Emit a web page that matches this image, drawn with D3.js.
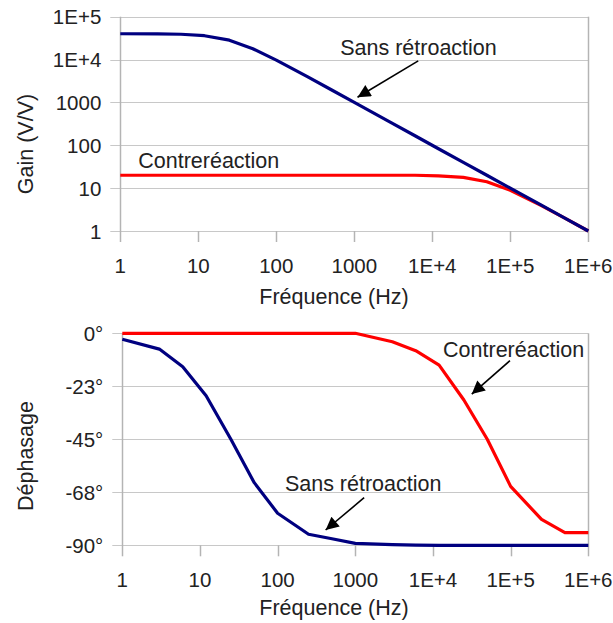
<!DOCTYPE html>
<html>
<head>
<meta charset="utf-8">
<script src="https://cdn.jsdelivr.net/npm/d3@7/dist/d3.min.js"></script>
<style>
  html, body { margin: 0; padding: 0; background: #fff; }
  svg { display: block; }
  text { font-family: "Liberation Sans", Arial, sans-serif; fill: #222; }
</style>
</head>
<body>
<script>
// ---------- DATA ----------
const freqs = [1, 3, 6, 12, 25, 50, 100, 250, 500, 1000, 3000, 6000, 12000, 25000, 50000, 100000, 250000, 500000, 1000000];
const gainOpen   = [40000, 39800, 38900, 36000, 28300, 17900, 9700, 3980, 2000, 1000, 333, 167, 83, 40, 20, 10, 4, 2, 1];
const gainClosed = [20, 20, 20, 20, 20, 20, 20, 20, 20, 20, 20, 20, 19.4, 17.9, 14.1, 8.9, 3.9, 2.0, 1.0];
const phaseOpen   = [-2.5, -6.7, -14.2, -26.5, -45, -63.4, -76.4, -85.3, -87.2, -89.2, -89.7, -89.9, -90, -90, -90, -90, -90, -90, -90];
const phaseClosed = [0, 0, 0, 0, 0, 0, 0, 0, 0, 0, -3.6, -7.4, -13.5, -28.3, -45, -65, -79, -84.6, -84.6];

const xTickValues = [1, 10, 100, 1000, 10000, 100000, 1000000];
const xTickLabels = ["1", "10", "100", "1000", "1E+4", "1E+5", "1E+6"];
const gainTickValues = [1, 10, 100, 1000, 10000, 100000];
const gainTickLabels = ["1", "10", "100", "1000", "1E+4", "1E+5"];
const phaseTickValues = [0, -22.5, -45, -67.5, -90];
const phaseTickLabels = ["0°", "-23°", "-45°", "-68°", "-90°"];

// annotation anchors in data space
const gainNotes = [
  { label: "Sans rétroaction", at: [660, 12800], tail: [6600, 9300], tip: [1100, 1320], arrow: true },
  { label: "Contreréaction", at: [1.7, 29.5], arrow: false }
];
const phaseNotes = [
  { label: "Contreréaction", at: [13500, -10.1], tail: [98000, -11.6], tip: [31600, -25.8], arrow: true },
  { label: "Sans rétroaction", at: [124, -66.8], tail: [1300, -69.8], tip: [415, -83.5], arrow: true }
];

// ---------- DRAW ----------
const W = 613, H = 623;
const svg = d3.select("body").append("svg").attr("width", W).attr("height", H);

const gridColor = "#c8c8c8";
const axisColor = "#b4b4b4";
const blue = "#000080", red = "#ff0000";
const tickFont = 20.5, titleFont = 21.5, noteFont = 21.5;

svg.append("defs").append("marker")
  .attr("id", "ah").attr("viewBox", "0 0 10 10").attr("refX", 10).attr("refY", 5)
  .attr("markerWidth", 19).attr("markerHeight", 13).attr("markerUnits", "userSpaceOnUse")
  .attr("orient", "auto")
  .append("path").attr("d", "M0,0 L10,5 L0,10 Z").attr("fill", "#000");

function panel(opts) {
  const { x, y, xTickY, titleY, yTitle, yTitleY, yTickVals, yTickLabs, series, notes } = opts;
  const g = svg.append("g");
  const [x0, x1] = x.range();
  const [yb, yt] = y.range();

  g.selectAll(".hg").data(yTickVals).enter().append("line")
    .attr("x1", x0 - 10).attr("x2", x1)
    .attr("y1", d => Math.round(y(d)) + 0.5).attr("y2", d => Math.round(y(d)) + 0.5)
    .attr("stroke", gridColor).attr("stroke-width", 1);
  g.append("line").attr("x1", Math.round(x0) + 0.5).attr("x2", Math.round(x0) + 0.5)
    .attr("y1", yt).attr("y2", yb + 11).attr("stroke", axisColor).attr("stroke-width", 1.5);
  g.append("line").attr("x1", Math.round(x1) + 0.5).attr("x2", Math.round(x1) + 0.5)
    .attr("y1", yt).attr("y2", yb + 11).attr("stroke", axisColor).attr("stroke-width", 1.5);
  g.selectAll(".xt").data(xTickValues.slice(1, -1)).enter().append("line")
    .attr("x1", d => Math.round(x(d)) + 0.5).attr("x2", d => Math.round(x(d)) + 0.5)
    .attr("y1", yb).attr("y2", yb + 11).attr("stroke", axisColor).attr("stroke-width", 1.5);

  g.selectAll(".yl").data(yTickVals).enter().append("text")
    .attr("x", x0 - 19).attr("y", d => y(d) + 7.5)
    .attr("text-anchor", "end").attr("font-size", tickFont)
    .text((d, i) => yTickLabs[i]);
  g.selectAll(".xl").data(xTickValues).enter().append("text")
    .attr("x", d => x(d)).attr("y", xTickY)
    .attr("text-anchor", "middle").attr("font-size", tickFont)
    .text((d, i) => xTickLabels[i]);
  g.append("text").attr("x", 334).attr("y", titleY)
    .attr("text-anchor", "middle").attr("font-size", titleFont).text("Fréquence (Hz)");
  g.append("text").attr("transform", `translate(33,${yTitleY}) rotate(-90)`)
    .attr("text-anchor", "middle").attr("font-size", titleFont).text(yTitle);

  const line = d3.line().x(d => x(d[0])).y(d => y(d[1]));
  series.forEach(s => {
    g.append("path").datum(freqs.map((f, i) => [f, s.values[i]]))
      .attr("d", line).attr("fill", "none").attr("stroke", s.color)
      .attr("stroke-width", 3.2).attr("stroke-linejoin", "round");
  });

  notes.forEach(n => {
    g.append("text").attr("x", x(n.at[0])).attr("y", y(n.at[1]))
      .attr("font-size", noteFont).text(n.label);
    if (n.arrow) {
      g.append("line")
        .attr("x1", x(n.tail[0])).attr("y1", y(n.tail[1]))
        .attr("x2", x(n.tip[0])).attr("y2", y(n.tip[1]))
        .attr("stroke", "#000").attr("stroke-width", 1.6)
        .attr("marker-end", "url(#ah)");
    }
  });
}

const xTop = d3.scaleLog().domain([1, 1e6]).range([120.3, 588.3]);
const yTop = d3.scaleLog().domain([1, 1e5]).range([231, 16.7]);
panel({
  x: xTop, y: yTop, xTickY: 273, titleY: 304,
  yTitle: "Gain (V/V)", yTitleY: 144,
  yTickVals: gainTickValues, yTickLabs: gainTickLabels,
  series: [{ values: gainClosed, color: red }, { values: gainOpen, color: blue }],
  notes: gainNotes
});

const xBot = d3.scaleLog().domain([1, 1e6]).range([122.3, 588.3]);
const yBot = d3.scaleLinear().domain([-90, 0]).range([545.3, 333.3]);
panel({
  x: xBot, y: yBot, xTickY: 587, titleY: 615,
  yTitle: "Déphasage", yTitleY: 456,
  yTickVals: phaseTickValues, yTickLabs: phaseTickLabels,
  series: [{ values: phaseOpen, color: blue }, { values: phaseClosed, color: red }],
  notes: phaseNotes
});
</script>
</body>
</html>
